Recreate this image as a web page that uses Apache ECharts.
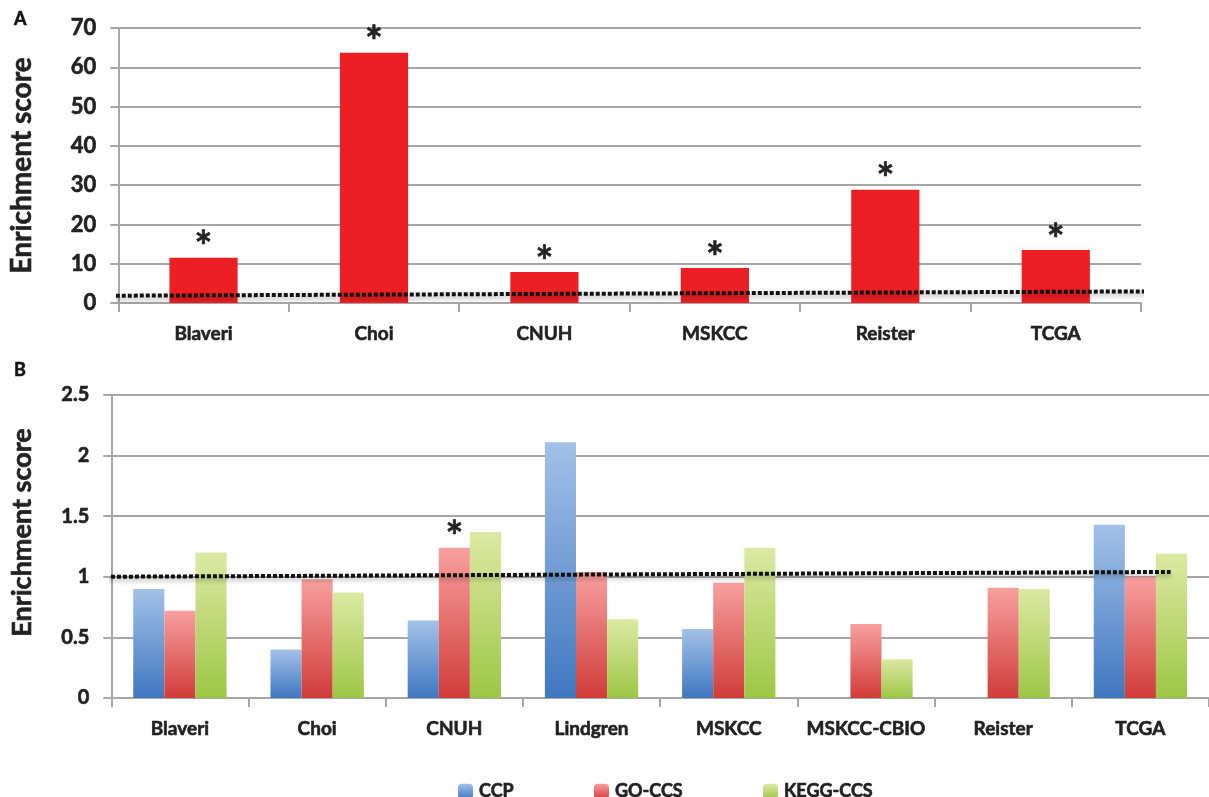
<!DOCTYPE html>
<html>
<head>
<meta charset="utf-8">
<script src="https://cdn.jsdelivr.net/npm/echarts@6/dist/echarts.min.js"></script>
<style>
  html, body { margin: 0; padding: 0; background: #fff; }
  #main { width: 1209px; height: 797px; }
</style>
</head>
<body>
<div id="main"></div>
<script>
  // panel A
  var catsA = ['Blaveri', 'Choi', 'CNUH', 'MSKCC', 'Reister', 'TCGA'];
  var scoreA = [11.5, 63.7, 7.9, 8.9, 28.8, 13.5];
  var starA = [true, true, true, true, true, true];
  // dotted reference line, x in category-index units
  var refA = [[-0.55, 1.85], [5.82, 3.0]];

  // panel B
  var catsB = ['Blaveri', 'Choi', 'CNUH', 'Lindgren', 'MSKCC', 'MSKCC-CBIO', 'Reister', 'TCGA'];
  var ccp = [0.90, 0.40, 0.64, 2.11, 0.57, null, null, 1.43];
  var goCcs = [0.72, 0.98, 1.24, 1.04, 0.95, 0.61, 0.91, 1.00];
  var keggCcs = [1.20, 0.87, 1.37, 0.65, 1.24, 0.32, 0.90, 1.19];
  var starGo = [false, false, true, false, false, false, false, false];
  var refB = [[-0.59, 1.0], [7.22, 1.04]];

  var FONT = 'Lato';
  var GRID_C = '#a6a6a6';
  var TXT = '#222';

  function grad(top, bottom) {
    return new echarts.graphic.LinearGradient(0, 0, 0, 1, [
      { offset: 0, color: top },
      { offset: 1, color: bottom }
    ]);
  }

  // bold text, thickened a little to look like the heavy original
  function txt(size, extra) {
    var s = { fontFamily: FONT, fontWeight: 'bold', fontSize: size, color: TXT,
              textBorderColor: TXT, textBorderWidth: 0.6 };
    for (var k in extra) s[k] = extra[k];
    return s;
  }

  function yAx(gridIndex, max, interval, gap, nameStyle, labelSize) {
    return {
      type: 'value', gridIndex: gridIndex, min: 0, max: max, interval: interval,
      name: 'Enrichment score', nameLocation: 'middle', nameGap: gap,
      nameTextStyle: nameStyle,
      axisLine: { show: true, onZero: false, lineStyle: { color: GRID_C, width: 2 } },
      axisTick: { show: true, length: 8, lineStyle: { color: GRID_C, width: 2 } },
      axisLabel: txt(labelSize, { margin: 22 }),
      splitLine: { show: true, lineStyle: { color: GRID_C, width: 2 } }
    };
  }

  function xCat(gridIndex, data) {
    return {
      type: 'category', gridIndex: gridIndex, data: data,
      axisLine: { show: true, onZero: false, lineStyle: { color: GRID_C, width: 2 } },
      axisTick: { show: true, length: 9, lineStyle: { color: GRID_C, width: 2 } },
      axisLabel: txt(19, { margin: 21, interval: 0 })
    };
  }

  function hiddenX(gridIndex, max) {
    return {
      type: 'value', gridIndex: gridIndex, min: -0.5, max: max, show: false,
      splitLine: { show: false }, axisLine: { show: false },
      axisTick: { show: false }, axisLabel: { show: false }
    };
  }

  var dotStyle = {
    color: '#111', width: 4, type: [4, 2], cap: 'butt',
    shadowColor: 'rgba(0,0,0,0.3)', shadowBlur: 4, shadowOffsetY: 3
  };

  var starLabel = function (flags) {
    return txt(42, {
      show: true, position: 'top', distance: -12,
      formatter: function (p) { return flags[p.dataIndex] ? '*' : ''; }
    });
  };

  var myChart = echarts.init(document.getElementById('main'));
  var option = {
    animation: false,
    title: [
      { text: 'A', left: 9, top: 5, textStyle: txt(18, { color: '#111' }) },
      { text: 'B', left: 9, top: 356, textStyle: txt(18, { color: '#111' }) }
    ],
    legend: {
      left: 453, top: 777, itemWidth: 15, itemHeight: 15, itemGap: 80,
      data: ['CCP', 'GO-CCS', 'KEGG-CCS'],
      textStyle: txt(18, { padding: [0, 0, 0, 1] })
    },
    grid: [
      { left: 114, top: 28, width: 1027, height: 275 },
      { left: 111, top: 395, width: 1108, height: 303 }
    ],
    xAxis: [
      xCat(0, catsA),
      xCat(1, catsB),
      hiddenX(0, 5.5),
      hiddenX(1, 7.5)
    ],
    yAxis: [
      yAx(0, 70, 10, 82, txt(28), 22),
      yAx(1, 2.5, 0.5, 76, txt(27, { padding: [0, 0, 0, 28] }), 20)
    ],
    series: [
      {
        type: 'bar', xAxisIndex: 0, yAxisIndex: 0, barWidth: '40%',
        itemStyle: { color: '#ec2024' },
        label: starLabel(starA),
        data: scoreA
      },
      {
        name: 'CCP', type: 'bar', xAxisIndex: 1, yAxisIndex: 1,
        barCategoryGap: '32%', barGap: 0,
        itemStyle: { color: grad('#a3c1e8', '#3f77c0') },
        data: ccp
      },
      {
        name: 'GO-CCS', type: 'bar', xAxisIndex: 1, yAxisIndex: 1,
        barCategoryGap: '32%', barGap: 0,
        itemStyle: { color: grad('#f7a09f', '#d03c39') },
        label: starLabel(starGo),
        data: goCcs
      },
      {
        name: 'KEGG-CCS', type: 'bar', xAxisIndex: 1, yAxisIndex: 1,
        barCategoryGap: '32%', barGap: 0,
        itemStyle: { color: grad('#dde9a3', '#9cc745') },
        data: keggCcs
      },
      {
        type: 'line', xAxisIndex: 2, yAxisIndex: 0, clip: false, silent: true,
        symbol: 'none', lineStyle: dotStyle, z: 5, data: refA
      },
      {
        type: 'line', xAxisIndex: 3, yAxisIndex: 1, clip: false, silent: true,
        symbol: 'none', lineStyle: dotStyle, z: 5, data: refB
      }
    ]
  };
  myChart.setOption(option);
</script>
</body>
</html>
